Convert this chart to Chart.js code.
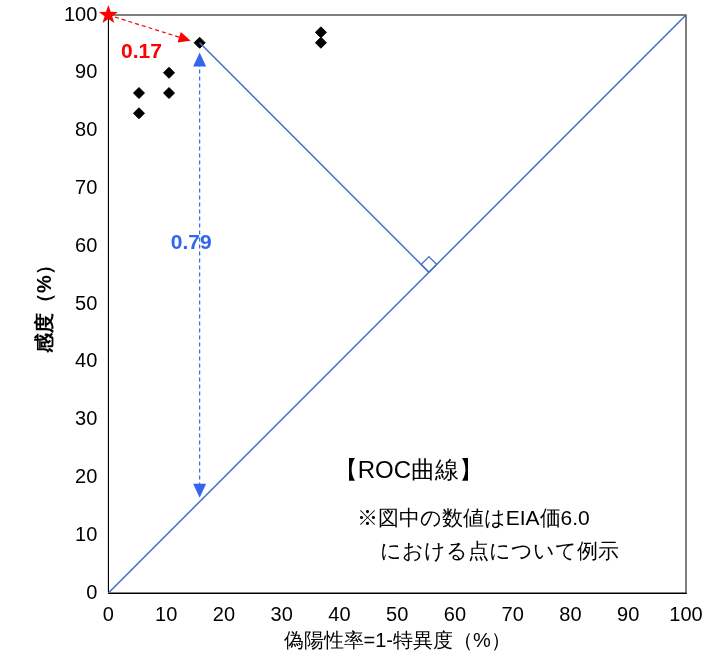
<!DOCTYPE html>
<html><head><meta charset="utf-8">
<script src="https://cdn.jsdelivr.net/npm/chart.js@4/dist/chart.umd.min.js"></script>
<style>html,body{margin:0;padding:0;background:#fff}#c{display:block}</style>
</head><body>
<div style="width:718px;height:659px"><canvas id="c"></canvas></div>
<script>
const xValues=[5.3,5.3,10.5,10.5,15.8,36.8,36.8];
const yValues=[86.5,83,90,86.5,95.2,97,95.2];
const selX=15.8, selY=95.2;
const footXY=(selX+selY)/2;
const labelRed="0.17", labelBlue="0.79";
const F="'Liberation Sans', Arial, sans-serif";
const BLUE="#4472C4", ARB="#3366EE";

function arrowHead(ctx,x,y,ang,len,w,col){
  ctx.save();ctx.fillStyle=col;ctx.beginPath();
  ctx.moveTo(x,y);
  ctx.lineTo(x-len*Math.cos(ang)+w*Math.sin(ang),y-len*Math.sin(ang)-w*Math.cos(ang));
  ctx.lineTo(x-len*Math.cos(ang)-w*Math.sin(ang),y-len*Math.sin(ang)+w*Math.cos(ang));
  ctx.closePath();ctx.fill();ctx.restore();
}
const deco={id:'deco',afterDatasetsDraw(chart){
  const {ctx,scales:{x,y},chartArea:a}=chart;
  const X=v=>x.getPixelForValue(v),Y=v=>y.getPixelForValue(v);
  ctx.save();
  ctx.strokeStyle='#000';ctx.lineWidth=1;ctx.strokeRect(a.left,a.top,a.right-a.left,a.bottom-a.top);
  ctx.strokeStyle=BLUE;ctx.lineWidth=1.6;
  ctx.beginPath();ctx.moveTo(X(0),Y(0));ctx.lineTo(X(100),Y(100));ctx.stroke();
  ctx.beginPath();ctx.moveTo(X(selX),Y(selY));ctx.lineTo(X(footXY),Y(footXY));ctx.stroke();
  const fx=X(footXY),fy=Y(footXY),s=11,d=s/Math.SQRT2;
  ctx.lineWidth=1.3;
  ctx.beginPath();ctx.moveTo(fx,fy);ctx.lineTo(fx-d,fy-d);ctx.lineTo(fx,fy-2*d);ctx.lineTo(fx+d,fy-d);ctx.closePath();ctx.stroke();
  const vx=X(selX),t=Y(93.5),b=Y(16.5);
  ctx.setLineDash([4,3]);ctx.strokeStyle=ARB;ctx.lineWidth=1.2;
  ctx.beginPath();ctx.moveTo(vx,t+10);ctx.lineTo(vx,b-10);ctx.stroke();ctx.setLineDash([]);
  arrowHead(ctx,vx,t,-Math.PI/2,14,6.5,ARB);
  arrowHead(ctx,vx,b,Math.PI/2,14,6.5,ARB);
  const sx=X(0),sy=Y(100),ex=X(selX)-9,ey=Y(selY)-2;
  const ang=Math.atan2(ey-sy,ex-sx);
  ctx.setLineDash([4,3]);ctx.strokeStyle='#FF0000';
  ctx.beginPath();ctx.moveTo(sx,sy);ctx.lineTo(ex-10*Math.cos(ang),ey-10*Math.sin(ang));ctx.stroke();ctx.setLineDash([]);
  arrowHead(ctx,ex,ey,ang,12,5.5,'#FF0000');
  ctx.fillStyle='#FF0000';ctx.beginPath();
  for(let i=0;i<10;i++){const r=i%2?4:10,an=-Math.PI/2+i*Math.PI/5;ctx.lineTo(sx+r*Math.cos(an),sy+r*Math.sin(an));}
  ctx.closePath();ctx.fill();
  ctx.font="bold 21px "+F;ctx.textBaseline='middle';ctx.textAlign='left';
  ctx.fillStyle='#FF0000';ctx.fillText(labelRed,X(2.2),Y(93.6));
  ctx.fillStyle=ARB;ctx.fillText(labelBlue,X(10.8),Y(60.5));
  ctx.fillStyle='#000';ctx.font="24px "+F;ctx.fillText("【ROC曲線】",X(39),Y(21));
  ctx.font="21px "+F;ctx.fillText("※図中の数値はEIA価6.0",X(43),Y(12.8));
  ctx.fillText("における点について例示",X(47),Y(7));
  ctx.restore();
}};
new Chart(document.getElementById('c'),{
  type:'scatter',
  data:{datasets:[{data:xValues.map((v,i)=>({x:v,y:yValues[i]})),pointStyle:'rectRot',radius:5.5,hoverRadius:5.5,backgroundColor:'#000',borderColor:'#000'}]},
  options:{responsive:true,maintainAspectRatio:false,animation:false,
    layout:{padding:{top:13,right:32,left:29,bottom:2}},
    plugins:{legend:{display:false},tooltip:{enabled:false}},
    scales:{
      x:{min:0,max:100,ticks:{stepSize:10,color:'#000',font:{family:F,size:20},maxRotation:0,padding:2},grid:{display:false},border:{color:'#000'},
        title:{display:true,text:'偽陽性率=1-特異度（%）',color:'#000',font:{family:F,size:20},padding:{top:0}}},
      y:{min:0,max:100,ticks:{stepSize:10,color:'#000',font:{family:F,size:20}},grid:{display:false},border:{color:'#000'},
        title:{display:true,text:'感度（%）',color:'#000',font:{family:F,size:20,weight:'bold'}}}
    }}
  ,plugins:[deco]});
</script></body></html>
